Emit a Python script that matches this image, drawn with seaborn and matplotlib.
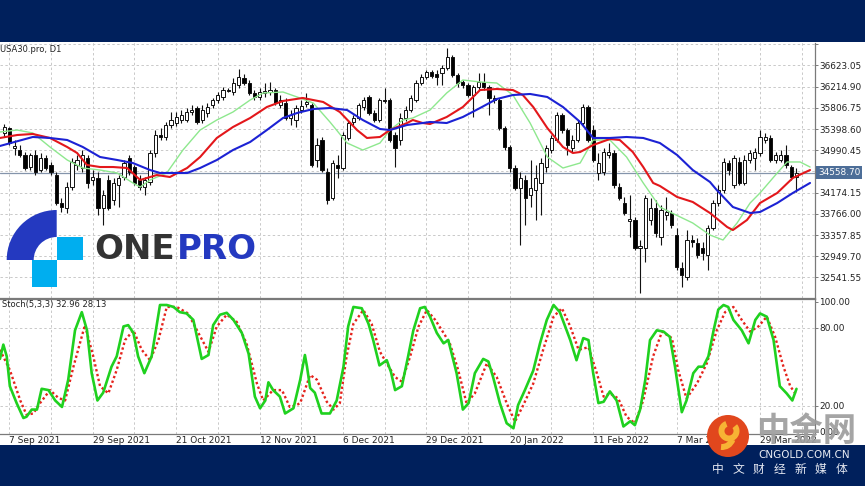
import matplotlib
matplotlib.use("Agg")
import matplotlib.pyplot as plt
import matplotlib.transforms as mtransforms
from matplotlib.patches import Rectangle, Wedge, Circle
import numpy as np
import seaborn as sns

sns.set_theme(style="white")
plt.rcParams['font.family'] = ['DejaVu Sans', 'Noto Sans CJK SC']

# ---------------- data ----------------
symbol_title = "USA30.pro, D1"
stoch_title = "Stoch(5,3,3) 32.96 28.13"
last_price = 34558.70

opens = [35323, 35419, 35034, 34995, 34899, 34668, 34899, 34610, 34842, 34707,
         34514, 33975, 33879, 34284, 34707, 34649, 34842, 34418, 34457, 33879,
         34418, 34033, 34322, 34476, 34842, 34668, 34418, 34284, 34380, 34938,
         35284, 35246, 35477, 35515, 35573, 35573, 35727, 35804, 35573, 35708,
         35862, 35958, 36016, 36150, 36112, 36247, 36382, 36285, 36093, 36016,
         36093, 36112, 36150, 35862, 35900, 35612, 35573, 35765, 35881, 35862,
         34803, 35188, 34572, 34072, 34707, 34649, 35227, 35535, 35612, 35823,
         36016, 35708, 35573, 35958, 35958, 35284, 35188, 35612, 35765, 35958,
         36285, 36401, 36497, 36459, 36478, 36574, 36786, 36439, 36305, 36247,
         36054, 36208, 36305, 36208, 35997, 35958, 35419, 35053, 34649, 34264,
         34418, 34129, 34225, 34361, 34668, 34995, 35188, 35669, 35380, 35034,
         35188, 35515, 35823, 35380, 34553, 34572, 34899, 34938, 34284, 33975,
         33629, 33648, 33109, 33109, 33648, 33879, 33321, 33744, 33783, 33359,
         32724, 32551, 33263, 33205, 33109, 32974, 33494, 33975, 34225, 34745,
         34322, 34765, 34361, 34803, 34842, 34938, 35188, 35227, 34803, 34803,
         34899, 34668, 34476]
highs = [35496, 35438, 35188, 35092, 34957, 34938, 34995, 34938, 34899, 34765,
         34572, 34072, 34380, 34842, 34899, 34995, 34899, 34610, 34572, 34225,
         34514, 34457, 34514, 34803, 34899, 34707, 34514, 34476, 34995, 35380,
         35419, 35535, 35727, 35727, 35765, 35804, 35862, 35843, 35862, 35900,
         35997, 36112, 36208, 36189, 36382, 36555, 36459, 36343, 36150, 36189,
         36285, 36305, 36189, 36054, 35997, 35765, 35862, 35958, 36093, 35900,
         35227, 35246, 34649, 34803, 34899, 35342, 35573, 35669, 35900, 36016,
         36054, 35765, 35997, 36189, 35997, 35342, 35708, 35843, 36054, 36343,
         36459, 36535, 36535, 36535, 36632, 36959, 36824, 36478, 36343, 36285,
         36247, 36478, 36478, 36247, 36054, 35997, 35458, 35092, 34707, 34572,
         34514, 34803, 34707, 34842, 35092, 35284, 35727, 35708, 35419, 35284,
         35573, 35881, 35862, 35477, 34938, 35034, 35130, 34995, 34361, 34091,
         34129, 33706, 33263, 34129, 34072, 34033, 33937, 34091, 33840, 33494,
         32840, 33455, 33359, 33301, 33225, 33552, 34033, 34322, 34842, 34803,
         34899, 34861, 34899, 34995, 35034, 35380, 35323, 35284, 34957, 34995,
         35092, 34707, 34649]
lows = [35246, 35092, 34899, 34861, 34610, 34610, 34514, 34572, 34610, 34514,
        33937, 33802, 33783, 34225, 34610, 34572, 34264, 34322, 33744, 33552,
        33840, 33937, 33898, 34418, 34514, 34322, 34225, 34129, 34322, 34861,
        35188, 35188, 35419, 35458, 35515, 35535, 35669, 35496, 35515, 35631,
        35804, 35900, 35958, 36112, 36054, 36189, 36247, 36054, 35958, 35958,
        36016, 36054, 35862, 35804, 35573, 35477, 35438, 35708, 35823, 34668,
        34668, 34572, 33956, 34033, 34457, 34610, 35188, 35477, 35573, 35765,
        35669, 35535, 35535, 35900, 35150, 34668, 35092, 35554, 35727, 35920,
        36247, 36362, 36382, 36247, 36247, 36535, 36401, 36208, 36189, 36016,
        35631, 36150, 36150, 35669, 35900, 35380, 34995, 34572, 34225, 33167,
        33552, 33898, 33648, 33744, 34572, 34938, 35150, 35323, 34899, 34957,
        35150, 35477, 35150, 34765, 34418, 34514, 34842, 34264, 34033, 33744,
        33321, 33070, 32243, 32840, 33552, 33321, 33167, 33648, 33494, 32685,
        32358, 32493, 33128, 32917, 32878, 32685, 33455, 33918, 34168, 34514,
        34264, 34322, 34322, 34745, 34610, 34880, 35130, 34765, 34745, 34765,
        34649, 34418, 34187]
closes = [35438, 35130, 35073, 34899, 34649, 34899, 34572, 34842, 34649, 34572,
          33975, 33898, 34284, 34765, 34803, 34899, 34361, 34476, 33879, 34129,
          33879, 34361, 34457, 34745, 34572, 34361, 34284, 34418, 34938, 35284,
          35246, 35477, 35573, 35631, 35669, 35727, 35765, 35535, 35765, 35823,
          35958, 36054, 36150, 36131, 36285, 36401, 36285, 36093, 36016, 36112,
          36131, 36150, 35900, 35958, 35612, 35669, 35804, 35843, 35920, 34707,
          35092, 34610, 34033, 34745, 34649, 35284, 35515, 35612, 35862, 35958,
          35708, 35573, 35958, 35939, 35188, 35034, 35612, 35765, 35997, 36285,
          36401, 36497, 36420, 36401, 36574, 36786, 36439, 36285, 36247, 36054,
          36208, 36305, 36208, 35997, 35958, 35419, 35053, 34649, 34264, 34457,
          34072, 34264, 34457, 34745, 35034, 35227, 35669, 35380, 35092, 35188,
          35515, 35823, 35188, 34803, 34745, 34957, 34957, 34322, 34072, 33783,
          33667, 33109, 33148, 34072, 33879, 33398, 33840, 33802, 33552, 32743,
          32590, 33263, 33225, 32974, 33013, 33494, 33975, 34225, 34765, 34610,
          34842, 34361, 34803, 34938, 34957, 35246, 35246, 34803, 34899, 34899,
          34707, 34476, 34558.70]

# moving averages (bar position, price)
ma_slow_pos = [-0.8, 5.5, 8.8, 12.1, 15.1, 18.4, 21.7, 24.7, 28.0, 29.9, 32.4, 35.1, 37.6,
               40.8, 43.9, 47.2, 50.4, 53.5, 56.2, 59.3, 62.5, 65.8, 68.8, 72.1, 74.0, 77.3,
               80.3, 81.7, 84.9, 88.0, 91.3, 94.5, 97.6, 100.9, 104.2, 107.2, 110.5, 113.0,
               116.2, 119.4, 122.6, 125.8, 129.1, 132.1, 135.4, 136.7, 139.8, 143.1, 145.0,
               148.3, 151.3, 154.6]
ma_slow_val = [35073, 35246, 35227, 35188, 35053, 34861, 34803, 34745, 34610, 34553, 34553,
               34553, 34649, 34803, 34995, 35150, 35380, 35612, 35708, 35785, 35804, 35765,
               35573, 35400, 35380, 35477, 35515, 35535, 35515, 35631, 35804, 35977, 36054,
               36074, 36016, 35823, 35535, 35227, 35227, 35246, 35227, 35130, 34899, 34610,
               34380, 34225, 33898, 33783, 33802, 33975, 34168, 34361]
ma_mid_pos = [-0.8, 2.5, 5.5, 8.8, 12.1, 14.0, 15.9, 18.4, 20.9, 23.6, 26.1, 27.4, 29.3, 31.8,
              35.1, 37.6, 40.8, 43.9, 47.2, 50.4, 53.5, 57.3, 61.2, 64.4, 67.7, 69.6, 72.1,
              74.0, 77.3, 78.4, 80.3, 81.7, 84.9, 88.0, 91.3, 94.5, 97.6, 99.5, 101.5, 104.2,
              107.2, 109.1, 110.5, 113.0, 116.2, 118.1, 120.6, 122.6, 124.5, 125.8, 129.1,
              132.1, 135.4, 138.7, 139.8, 142.5, 145.0, 148.3, 151.3, 154.6]
ma_mid_val = [35227, 35284, 35304, 35227, 35053, 34938, 34707, 34668, 34668, 34649, 34418,
              34457, 34514, 34476, 34649, 34861, 35227, 35438, 35612, 35823, 35939, 35997,
              35920, 35727, 35380, 35227, 35246, 35380, 35515, 35573, 35515, 35496, 35631,
              35823, 36150, 36170, 36150, 36054, 35823, 35419, 35053, 34938, 34957, 35092,
              35207, 35188, 34957, 34668, 34361, 34303, 34091, 33995, 33783, 33513, 33455,
              33648, 33975, 34168, 34457, 34610]
ma_fast_pos = [-0.8, 2.5, 5.5, 8.8, 12.1, 15.1, 18.4, 21.7, 24.7, 26.1, 28.0, 31.2, 34.3, 37.6,
               40.8, 43.9, 47.2, 49.7, 53.5, 56.2, 59.3, 62.5, 65.8, 68.8, 72.1, 74.0, 76.5,
               78.4, 81.7, 84.9, 88.0, 91.3, 94.5, 97.6, 100.9, 104.2, 107.2, 110.5, 113.0,
               116.2, 119.4, 122.6, 125.8, 127.7, 132.1, 135.4, 137.9, 140.6, 143.1, 145.0,
               148.3, 150.2, 152.7, 154.6]
ma_fast_val = [35342, 35380, 35323, 35053, 34803, 34649, 34610, 34553, 34361, 34284, 34418,
               34553, 34995, 35380, 35573, 35727, 35958, 36093, 36112, 36016, 35900, 35535,
               35130, 34995, 35130, 35380, 35573, 35612, 35765, 36093, 36343, 36305, 36285,
               36054, 35515, 34861, 34649, 34745, 35188, 35188, 34861, 34361, 33898, 33802,
               33590, 33359, 33263, 33590, 33975, 34168, 34553, 34765, 34765, 34668]

# stochastic %K (solid green) and %D (dotted red)
k_pos = [-0.8, -0.15, 0.5, 1.1, 2.4, 3.7, 4.3, 5.3, 6.3, 7.2,
         8.5, 9.8, 11.1, 12.3, 13.6, 14.9, 15.9, 16.8, 17.9, 19.0,
         20.6, 21.6, 22.9, 23.8, 24.8, 25.7, 26.9, 28.3, 29.9, 31.2,
         32.5, 33.7, 35.0, 36.3, 37.9, 39.2, 40.1, 41.4, 42.7, 44.0,
         45.6, 46.9, 48.1, 49.1, 50.1, 50.7, 51.6, 52.9, 53.9, 55.5,
         56.8, 57.7, 58.1, 58.7, 59.6, 60.9, 62.5, 63.8, 65.1, 66.0,
         67.0, 68.6, 69.9, 70.8, 72.0, 73.4, 74.2, 75.0, 76.3, 77.5,
         78.5, 79.8, 80.7, 81.7, 83.0, 84.3, 85.2, 86.8, 88.0, 89.1,
         90.3, 91.9, 92.9, 93.8, 95.1, 96.4, 97.7, 98.6, 99.9, 101.5,
         102.8, 104.1, 105.4, 106.6, 108.6, 109.8, 111.1, 112.1, 113.0, 114.0,
         115.0, 116.2, 117.5, 118.8, 120.1, 121.0, 122.0, 123.0, 123.9, 125.2,
         126.5, 127.7, 128.7, 130.0, 130.9, 132.2, 133.2, 134.1, 135.1, 136.1,
         137.0, 138.0, 138.9, 139.9, 141.5, 142.8, 144.1, 145.0, 146.3, 147.6,
         148.8, 150.1, 151.2, 152.0]
k_val = [56, 67, 58, 35, 22, 10.5, 11.5, 17, 17, 33,
         32, 24, 19, 40, 78, 92, 78, 45, 24, 30,
         50, 58, 81, 82, 76, 58, 45, 58, 97.5, 97.5,
         96, 92, 91, 86, 56, 59, 82, 90, 91.5, 86,
         76, 60, 27, 18, 24, 38, 32, 27, 14, 18,
         40, 59, 50, 33.6, 30, 14, 14, 24, 50, 81,
         96, 95, 83, 70.5, 51, 55, 46, 32, 35, 58,
         78, 95, 96, 88.5, 76, 68, 70.5, 45, 17, 22,
         45, 56, 54, 42, 22, 6.5, 2.6, 20.5, 32, 47,
         68, 86, 97.5, 92, 70.5, 55, 72, 70.5, 45, 22,
         23, 31, 24, 4, 8, 5, 17, 40, 70.5, 78,
         77, 73, 50, 15, 24, 45, 50, 50, 58, 78,
         94, 97.5, 96, 86, 78, 68, 86, 91, 88.5, 70.5,
         35, 29.5, 24, 32.96]
d_pos = [-0.8, 1.1, 3.1, 4.3, 5.6, 6.9, 8.8, 10.4, 11.7, 13.3,
         15.5, 17.1, 18.4, 20.0, 21.6, 23.2, 24.8, 26.4, 28.0, 29.6,
         31.2, 33.1, 35.3, 37.0, 39.2, 40.8, 42.7, 44.6, 46.5, 48.5,
         49.7, 51.6, 53.3, 54.8, 56.1, 56.8, 58.7, 60.0, 61.9, 63.2,
         64.4, 65.7, 67.0, 68.9, 70.5, 72.1, 73.4, 75.0, 76.3, 77.9,
         79.5, 81.1, 82.7, 84.3, 85.5, 87.1, 88.7, 90.3, 92.6, 94.5,
         96.4, 98.0, 99.6, 101.5, 103.4, 105.4, 107.0, 108.6, 110.2, 112.1,
         113.7, 115.0, 116.2, 117.8, 119.4, 121.0, 122.6, 124.5, 126.2, 128.1,
         129.3, 130.9, 132.9, 134.8, 136.7, 138.3, 139.9, 141.5, 143.1, 144.7,
         146.3, 147.9, 149.5, 150.8, 152.0]
d_val = [63, 47.5, 24, 13, 14, 22, 32, 26, 24, 50,
         82, 58, 35, 29.5, 47.5, 70.5, 78, 63, 55, 70.5,
         96, 96, 91, 78, 61.5, 81, 90, 84.6, 68, 37,
         24, 32, 32, 19, 20.5, 22, 43.6, 40, 23, 17,
         22, 58, 83, 93.6, 83, 61.5, 52.6, 42, 38.5, 58,
         81, 93.6, 86, 76, 68, 47.5, 22, 29.5, 52.6, 42,
         22, 7.7, 20.5, 37, 63, 88.5, 95, 81, 63, 65,
         45, 27, 29.5, 25.6, 11.5, 6.5, 24, 58, 77, 72,
         47.5, 25.6, 37, 52.6, 78, 92, 96, 86, 77, 81,
         88.5, 73, 50, 35, 28.13]

price_tick_labels = ["37031.20", "36623.05", "36214.90", "35806.75", "35398.60", "34990.45",
                     "34582.30", "34174.15", "33766.00", "33357.85", "32949.70", "32541.55"]
hidden_price_labels = ["37031.20", "34582.30"]
stoch_tick_labels = ["100.00", "80.00", "20.00", "0.00"]
stoch_levels = [20, 80]
date_labels = ["7 Sep 2021", "29 Sep 2021", "21 Oct 2021", "12 Nov 2021", "6 Dec 2021",
               "29 Dec 2021", "20 Jan 2022", "11 Feb 2022", "7 Mar 2022", "29 Mar 2022"]
date_label_bars = [1, 17, 33, 49, 65, 81, 97, 113, 129, 145]

# ---------------- figure ----------------
W, H = 865, 486
fig = plt.figure(figsize=(W / 100, H / 100), dpi=100)
fig.patch.set_facecolor('white')


def fa(x0, y0, x1, y1):
    return [x0 / W, 1 - y1 / H, (x1 - x0) / W, (y1 - y0) / H]


ax = fig.add_axes(fa(0, 42.5, 815, 298.5))
axs = fig.add_axes(fa(0, 298.5, 815, 434))
XLIM = (-0.79, 155.55)
GRID = dict(color='#c9c9c9', lw=0.7, ls=(0, (2.5, 2.5)), zorder=1)
SPINE = '#7a7a7a'
AXIS_FONT = 6.4

for a in (ax, axs):
    a.set_facecolor('white')
    a.set_xlim(*XLIM)
    for gx in range(1, 156, 8):
        a.axvline(gx, **GRID)
    a.spines['left'].set_visible(False)
    for s in ('right', 'bottom', 'top'):
        a.spines[s].set_color(SPINE)
        a.spines[s].set_linewidth(0.9)

# ---- main price panel ----
ax.set_ylim(32136.9, 37064.9)
ax.spines['top'].set_visible(False)
price_levels = [float(s) for s in price_tick_labels]
for lv in price_levels:
    ax.axhline(lv, **GRID)
ax.axhline(last_price, color='#8494ab', lw=0.9, zorder=2)

xb = np.arange(len(opens))
o = np.array(opens, float)
c = np.array(closes, float)
hi = np.array(highs, float)
lo = np.array(lows, float)
up = c >= o
ax.vlines(xb, lo, hi, color='#111111', lw=0.8, zorder=3)
ax.bar(xb, np.maximum(np.abs(c - o), 12), bottom=np.minimum(o, c), width=0.62,
       color=np.where(up, 'white', 'black'), edgecolor='#111111', linewidth=0.7, zorder=4)

sns.lineplot(x=ma_fast_pos, y=ma_fast_val, ax=ax, color='#8ee88e', lw=1.0,
             estimator=None, sort=False, zorder=5)
sns.lineplot(x=ma_mid_pos, y=ma_mid_val, ax=ax, color='#e3171b', lw=1.5,
             estimator=None, sort=False, zorder=6)
sns.lineplot(x=ma_slow_pos, y=ma_slow_val, ax=ax, color='#1c22d4', lw=1.5,
             estimator=None, sort=False, zorder=6)

ax.set_xticks([])
ax.yaxis.tick_right()
ax.set_yticks(price_levels)
ax.set_yticklabels(['' if s in hidden_price_labels else s for s in price_tick_labels])
ax.tick_params(axis='y', which='major', right=True, left=False, length=2, width=0.7,
               color=SPINE, pad=1.2, labelsize=AXIS_FONT, labelcolor='#222222')
ax.set_xlabel('')
ax.set_ylabel('')
ax.text(0.0, 0.99, symbol_title, transform=ax.transAxes, ha='left', va='top',
        fontsize=6, color='#222222', zorder=8)
trans = mtransforms.blended_transform_factory(ax.transAxes, ax.transData)
ax.text(1.004, last_price, f"{last_price:.2f}", transform=trans, ha='left', va='center',
        fontsize=AXIS_FONT, color='white', clip_on=False, zorder=10,
        bbox=dict(boxstyle='square,pad=0.22', fc='#4d6e98', ec='none'))

# ---- stochastic panel ----
axs.set_ylim(-1.8, 102.5)
for lv in stoch_levels:
    axs.axhline(lv, **GRID)
sns.lineplot(x=d_pos, y=d_val, ax=axs, color='#e5231c', lw=1.7, linestyle=(0, (1, 1.1)),
             estimator=None, sort=False, zorder=4)
sns.lineplot(x=k_pos, y=k_val, ax=axs, color='#1fd11f', lw=1.9,
             estimator=None, sort=False, zorder=5)
axs.yaxis.tick_right()
axs.set_yticks([float(s) for s in stoch_tick_labels])
axs.set_yticklabels(stoch_tick_labels)
axs.tick_params(axis='y', right=True, left=False, length=2, width=0.7, color=SPINE,
                pad=1.2, labelsize=AXIS_FONT, labelcolor='#222222')
axs.set_xticks(date_label_bars)
axs.set_xticklabels(date_labels)
axs.tick_params(axis='x', bottom=True, length=0, pad=1.5, labelsize=6.5, labelcolor='#222222')
for lbl in axs.get_xticklabels():
    lbl.set_ha('left')
axs.set_xlabel('')
axs.set_ylabel('')
axs.text(0.002, 0.99, stoch_title, transform=axs.transAxes, ha='left', va='top',
         fontsize=6, color='#222222', zorder=8)

# ---- frame, logo and watermark overlay ----
ov = fig.add_axes([0, 0, 1, 1], zorder=20)
ov.set_xlim(0, W)
ov.set_ylim(H, 0)
ov.axis('off')
ov.patch.set_alpha(0)
navy = '#00205c'
ov.add_patch(Rectangle((0, 0), W, 42.5, color=navy, lw=0))
ov.add_patch(Rectangle((0, 444.5), W, H - 444.5, color=navy, lw=0))

# ONEPRO logo
logo_blue = '#2439c0'
logo_cyan = '#00aeef'
ov.add_patch(Wedge((56.7, 260), 50, 180, 270, width=27, color=logo_blue, lw=0))
ov.add_patch(Rectangle((57, 237), 26, 23, color=logo_cyan, lw=0))
ov.add_patch(Rectangle((32, 260), 25, 27, color=logo_cyan, lw=0))
ov.text(94, 258.5, "ONE", fontsize=24.5, fontweight='bold', color='#333333',
        ha='left', va='baseline', family=['DejaVu Sans'])
ov.text(177, 258.5, "PRO", fontsize=24.5, fontweight='bold', color=logo_blue,
        ha='left', va='baseline', family=['DejaVu Sans'])

# CNGOLD watermark
ov.add_patch(Circle((728, 436), 21, color='#e1471d', lw=0))
ov.add_patch(Wedge((729, 431), 10.5, -40, 250, width=6, color='#f7b334', lw=0))
ov.add_patch(Wedge((722, 436), 14, 20, 95, width=6, color='#f7b334', lw=0))
ov.text(806, 431, "中金网", fontsize=24, fontweight='bold', color='#9d9d9d', alpha=0.92,
        ha='center', va='center', family=['Noto Sans CJK SC'])
ov.text(804, 454.5, "CNGOLD.COM.CN", fontsize=7.5, color='#e9ecf4',
        ha='center', va='center', family=['DejaVu Sans'])
for k, ch in enumerate("中文财经新媒体"):
    ov.text(717.5 + 20.6 * k, 469, ch, fontsize=8.5, color='#e6e9f2',
            ha='center', va='center', family=['Noto Sans CJK SC'])

fig.savefig("out.png", dpi=100, facecolor='white')
